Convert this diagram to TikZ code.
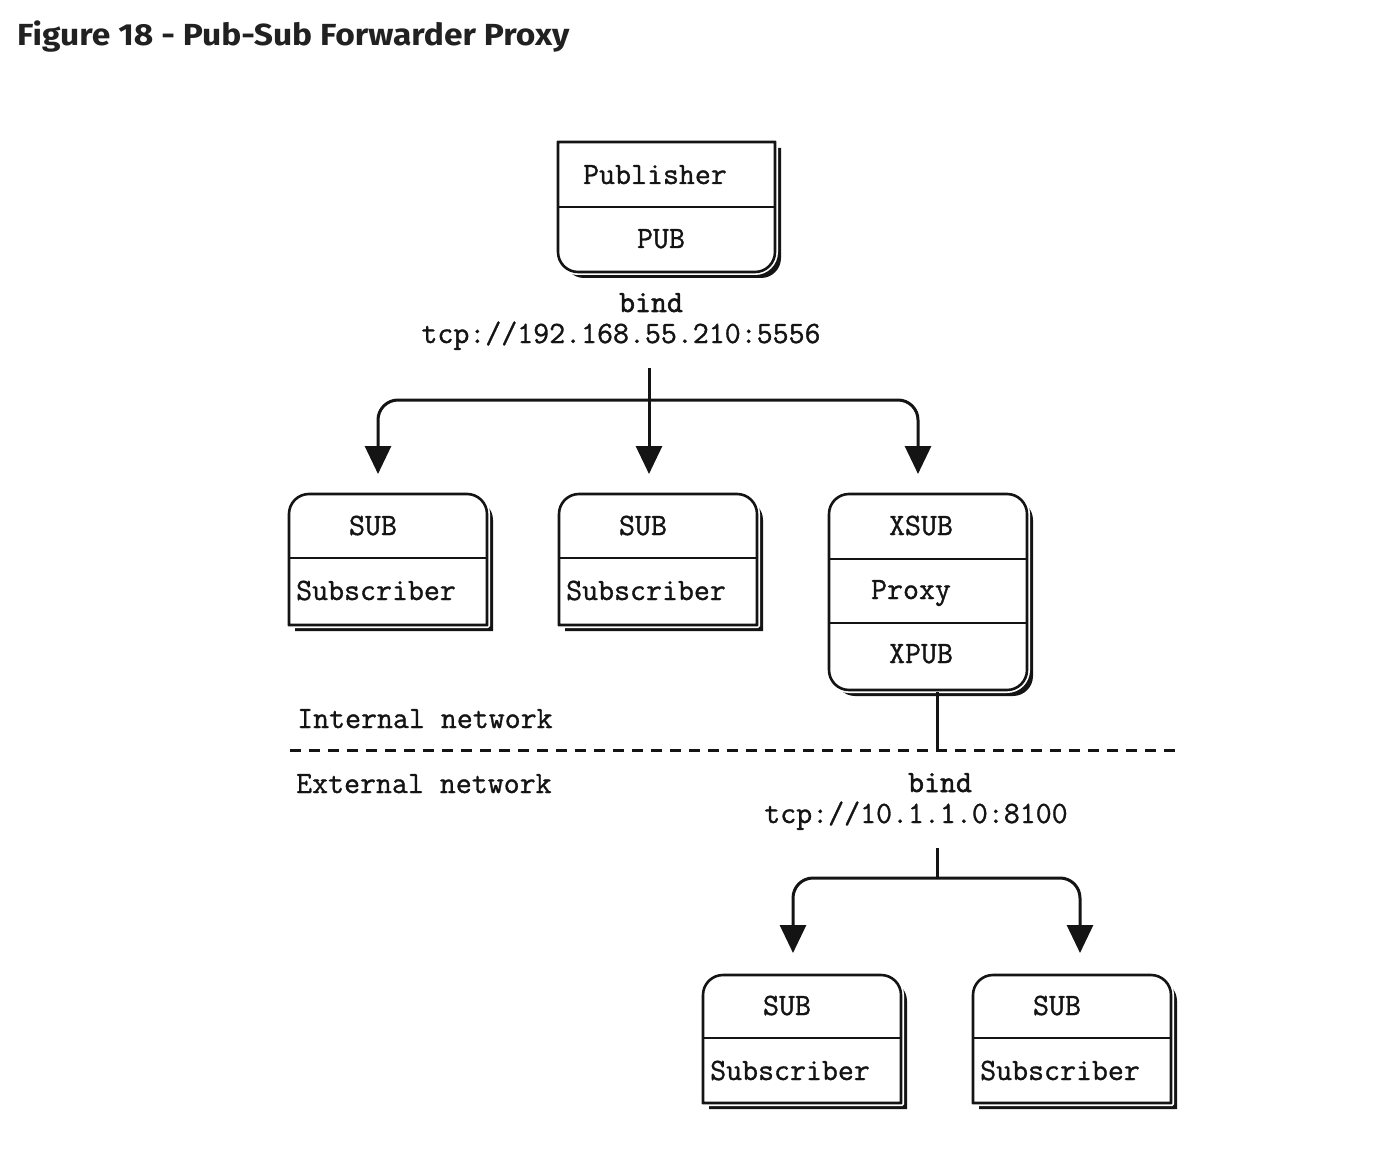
\documentclass[tikz,border=0pt]{standalone}
\usepackage{graphicx}
\usepackage{fontspec}
\setmonofont{Latin Modern Mono}[FakeBold=1]
\newfontfamily\bindfont{Latin Modern Mono}[FakeBold=1.8]
\newfontfamily\titlefont{Fira Sans}
\usetikzlibrary{arrows.meta,fit}
\definecolor{titlecol}{RGB}{33,33,33}
\definecolor{ink}{RGB}{20,20,20}
% x1 y1 x2 y2 rTL rTR rBR rBL
\newcommand\bxpath[8]{(#1+#5,#2) -- (#3-#6,#2) arc[start angle=-90,end angle=0,radius=#6] -- (#3,#4-#7) arc[start angle=0,end angle=90,radius=#7] -- (#1+#8,#4) arc[start angle=90,end angle=180,radius=#8] -- (#1,#2+#5) arc[start angle=180,end angle=270,radius=#5] -- cycle}
\newcommand\rbox[9]{%
  \fill[ink,shift={(6,6)}] \bxpath{#2}{#3}{#4}{#5}{#6}{#7}{#8}{#9};
  \draw[white,line width=6pt] \bxpath{#2}{#3}{#4}{#5}{#6}{#7}{#8}{#9};
  \draw[boxline,fill=white] \bxpath{#2}{#3}{#4}{#5}{#6}{#7}{#8}{#9};
  \coordinate (#1-nw) at (#2,#3);
  \coordinate (#1-se) at (#4,#5);
  \node[inner sep=0pt,fit=(#1-nw)(#1-se)] (#1) {};
}
\begin{document}
\begin{tikzpicture}[x=1pt,y=-1pt,
  boxline/.style={draw=ink,line width=2.6pt},
  txt/.style={font=\ttfamily\fontsize{31}{36}\selectfont,text=ink,inner sep=0pt,anchor=base},
  ltxt/.style={txt,anchor=base west},
  btxt/.style={txt,font=\bindfont\fontsize{31}{36}\selectfont},
  conn/.style={draw=ink,line width=3pt},
  arr/.style={conn,-{Triangle[width=26pt,length=28pt]}}]
\fill[white] (0,0) rectangle (1376,1150);
\useasboundingbox (0,0) rectangle (1376,1150);

\node[font=\titlefont\bfseries\fontsize{30.5}{36}\selectfont,text=titlecol,inner sep=0pt,anchor=base west] (title) at (17,46) {\scalebox{1.10}[1]{Figure 18 - Pub-Sub Forwarder Proxy}};

% boxes
\rbox{pub}{558}{142}{775}{272}{0.01}{0.01}{20}{20}
\draw[boxline] (558,207) -- (775,207);
\node[txt] (pubname) at (655,184) {Publisher};
\node[txt] (pubsock) at (661,248) {PUB};

\rbox{subA}{289}{494}{487}{625}{20}{20}{0.01}{0.01}
\draw[boxline] (289,558) -- (487,558);
\node[txt] (subAsock) at (373,535) {SUB};
\node[ltxt] (subAname) at (296,600) {Subscriber};

\rbox{subB}{559}{494}{757}{625}{20}{20}{0.01}{0.01}
\draw[boxline] (559,558) -- (757,558);
\node[txt] (subBsock) at (643,535) {SUB};
\node[ltxt] (subBname) at (566,600) {Subscriber};

\rbox{proxy}{829}{494}{1027}{690}{20}{20}{20}{20}
\draw[boxline] (829,559) -- (1027,559);
\draw[boxline] (829,623) -- (1027,623);
\node[txt] (xsub) at (921,535) {XSUB};
\node[txt] (proxyname) at (911,599) {Proxy};
\node[txt] (xpub) at (921,663) {XPUB};

\rbox{subC}{703}{975}{901}{1103}{20}{20}{0.01}{0.01}
\draw[boxline] (703,1038) -- (901,1038);
\node[txt] (subCsock) at (787,1015) {SUB};
\node[ltxt] (subCname) at (710,1080) {Subscriber};

\rbox{subD}{973}{975}{1171}{1103}{20}{20}{0.01}{0.01}
\draw[boxline] (973,1038) -- (1171,1038);
\node[txt] (subDsock) at (1057,1015) {SUB};
\node[ltxt] (subDname) at (980,1080) {Subscriber};

% labels
\node[btxt] (bindA) at (651,312) {bind};
\node[txt] (tcpA) at (621,343) {tcp://192.168.55.210:5556};
\node[ltxt] (internal) at (297,728) {Internal network};
\node[ltxt] (external) at (296,793) {External network};
\node[btxt] (bindB) at (940,792) {bind};
\node[txt] (tcpB) at (916,823) {tcp://10.1.1.0:8100};

% upper tree
\coordinate (tA) at (649,368);
\coordinate (jA) at (649,400);
\coordinate (a1) at (378,474);
\coordinate (a2) at (649,474);
\coordinate (a3) at (918,474);
\draw[arr] (tA) -- (a2);
\draw[arr,rounded corners=20pt] (jA) -| (a1);
\draw[arr,rounded corners=20pt] (jA) -| (a3);

% network divider
\coordinate (dl) at (290,750);
\coordinate (dr) at (1180,750);
\draw[draw=ink,line width=3pt,dash pattern=on 11pt off 8pt] (dl) -- (dr);
\coordinate (pxb) at (937,692);
\coordinate (pxd) at (937,750);
\draw[conn] (pxb) -- (pxd);

% lower tree
\coordinate (tB) at (937,848);
\coordinate (jB) at (937,878);
\coordinate (b1) at (793,953);
\coordinate (b2) at (1080,953);
\draw[conn] (tB) -- (jB);
\draw[arr,rounded corners=20pt] (jB) -| (b1);
\draw[arr,rounded corners=20pt] (jB) -| (b2);
\end{tikzpicture}
\end{document}
